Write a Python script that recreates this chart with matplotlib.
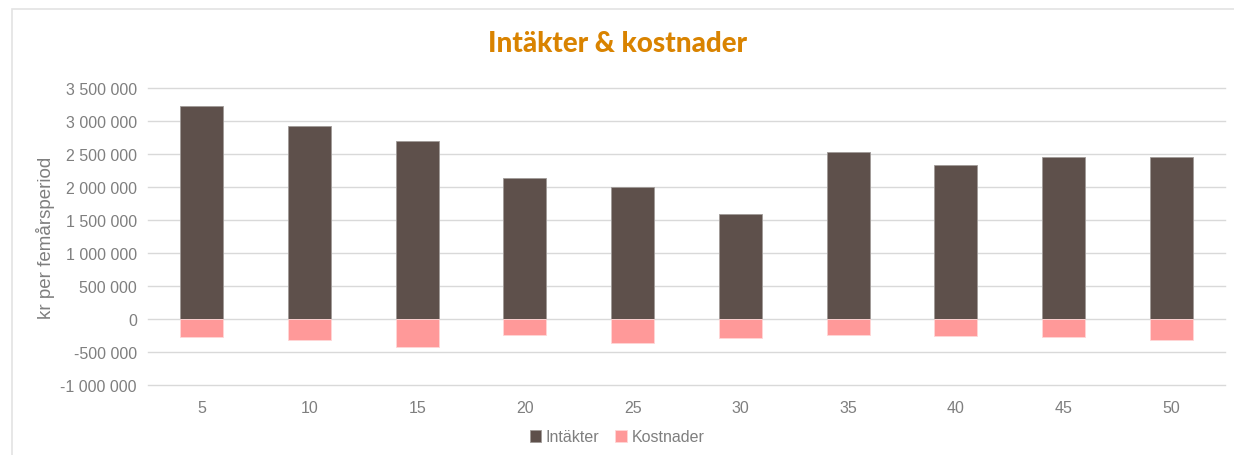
import matplotlib
matplotlib.use('Agg')
import matplotlib.pyplot as plt
from matplotlib.patches import Rectangle
import numpy as np

# data
years = ['5', '10', '15', '20', '25', '30', '35', '40', '45', '50']
intakter = [3230000, 2925000, 2700000, 2140000, 2000000, 1595000, 2535000, 2330000, 2450000, 2450000]
kostnader = [-277000, -323000, -420000, -242000, -360000, -283000, -242000, -263000, -268000, -323000]

DARK = '#5E504B'
PINK = '#FF9999'
TXT = '#7F7F7F'
GRID = '#D9D9D9'

plt.rcParams['font.family'] = ['Liberation Sans', 'DejaVu Sans']

fig = plt.figure(figsize=(12.34, 4.56), dpi=100)
# light chart border
fig.patches.append(Rectangle((12 / 1234, -0.1), 1.2, 1 - 10 / 456 + 0.1,
                             transform=fig.transFigure, fill=False,
                             edgecolor='#E3E3E3', lw=1.2))
ax = fig.add_axes([148 / 1234, 1 - 386 / 456, (1225 - 148) / 1234, (386 - 89) / 456])

x = np.arange(len(years))
ax.bar(x, intakter, width=0.4, color=DARK, edgecolor='#A09A98', lw=0.6,
       label='Intäkter', zorder=3)
ax.bar(x, kostnader, width=0.4, color=PINK, edgecolor='#FFD6D6', lw=0.6,
       label='Kostnader', zorder=3)

ax.set_ylim(-1000000, 3500000)
ax.set_xlim(-0.5, len(years) - 0.5)
ax.set_yticks(np.arange(-1000000, 3500001, 500000))
ax.yaxis.set_major_formatter(matplotlib.ticker.FuncFormatter(
    lambda v, p: '{:,.0f}'.format(v).replace(',', ' ')))
ax.set_xticks(x)
ax.set_xticklabels(years)
ax.grid(axis='y', color=GRID, lw=1, zorder=0)
for gl in ax.get_ygridlines():
    gl.set_clip_on(False)
for s in ax.spines.values():
    s.set_visible(False)
ax.tick_params(length=0, colors=TXT, labelsize=11.5, pad=8)
ax.tick_params(axis='x', pad=11)
ax.set_ylabel('kr per femårsperiod', color=TXT, fontsize=13.5, labelpad=4)

fig.text(0.5, 1 - 44 / 456, 'Intäkter & kostnader', ha='center', va='center',
         fontsize=20, fontweight='black', color='#D98300',
         family=['Lato', 'DejaVu Sans'])

fig.legend(loc='center', bbox_to_anchor=(0.5, 1 - 438 / 456), ncol=2,
           frameon=False, fontsize=11.5, labelcolor=TXT, handlelength=0.7,
           handleheight=0.7, handletextpad=0.3, columnspacing=1.0)

fig.savefig('out.png', dpi=100)
